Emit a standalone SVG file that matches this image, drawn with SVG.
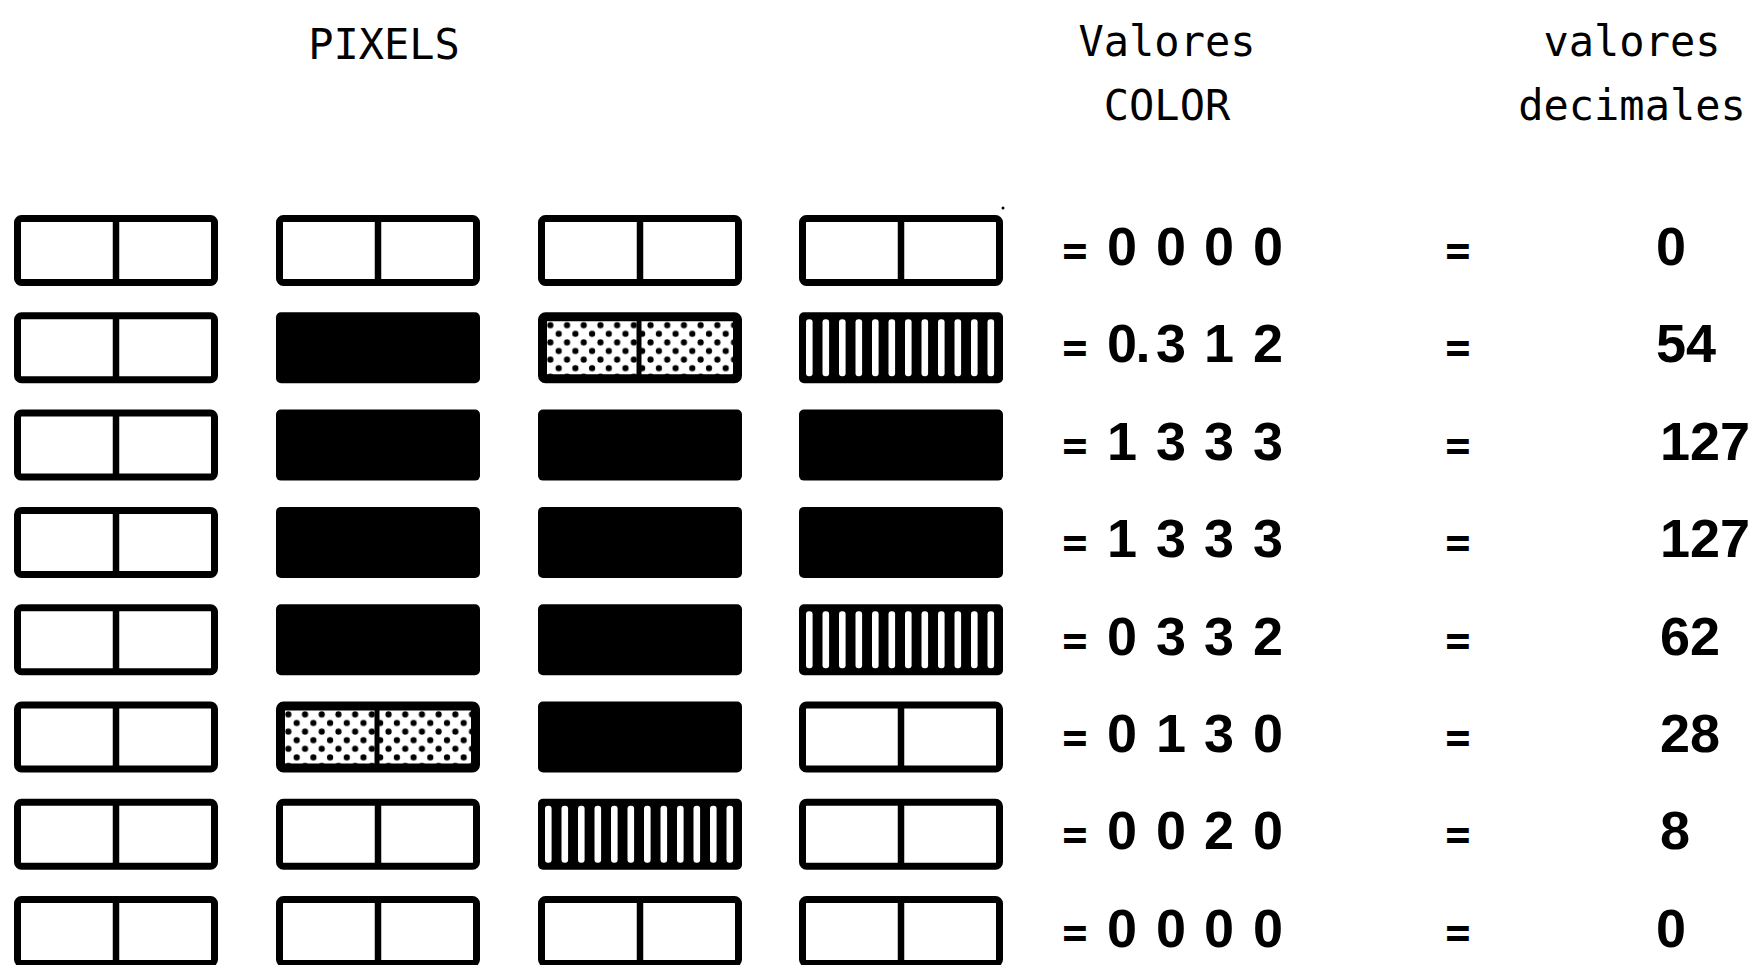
<svg xmlns="http://www.w3.org/2000/svg" xmlns:xlink="http://www.w3.org/1999/xlink" width="1758" height="965" viewBox="0 0 1758 965">
<style>
.hdr{font-family:"DejaVu Sans Mono","Liberation Mono",monospace;font-size:42px;fill:#000;text-anchor:middle}
.val{font-family:"Liberation Sans",Arial,sans-serif;font-weight:bold;font-size:54px;fill:#000;text-anchor:middle}
.eq{font-family:"DejaVu Sans Mono","Liberation Mono",monospace;font-weight:bold;font-size:42px;fill:#000;text-anchor:middle}
.dec{font-family:"Liberation Sans",Arial,sans-serif;font-weight:bold;font-size:54px;fill:#000}
</style>
<defs>
<pattern id="dots" patternUnits="userSpaceOnUse" width="16.7" height="17.2">
<rect width="16.7" height="17.2" fill="#fff"/>
<circle cx="4" cy="4.3" r="3.1" fill="#000"/>
<circle cx="12.35" cy="12.9" r="3.1" fill="#000"/>
</pattern>
<g id="empty">
<rect x="3.5" y="3.5" width="197" height="64" rx="4" fill="#fff" stroke="#000" stroke-width="7"/>
<line x1="102" y1="3" x2="102" y2="68" stroke="#000" stroke-width="6.5"/>
</g>
<g id="black">
<rect x="0" y="0" width="204" height="71" rx="5" fill="#000"/>
</g>
<g id="dotted">
<rect x="4.5" y="4.5" width="195" height="62" rx="3" fill="url(#dots)" stroke="#000" stroke-width="9"/>
<line x1="101" y1="4" x2="101" y2="67" stroke="#000" stroke-width="5"/>
</g>
<g id="striped">
<rect x="0" y="0" width="204" height="71" rx="5" fill="#000"/>
<g fill="#fff">
<rect x="7" y="7" width="6.6" height="57" rx="3"/>
<rect x="23.5" y="7" width="6.6" height="57" rx="3"/>
<rect x="40" y="7" width="6.6" height="57" rx="3"/>
<rect x="56.5" y="7" width="6.6" height="57" rx="3"/>
<rect x="73" y="7" width="6.6" height="57" rx="3"/>
<rect x="89.5" y="7" width="6.6" height="57" rx="3"/>
<rect x="106" y="7" width="6.6" height="57" rx="3"/>
<rect x="122.5" y="7" width="6.6" height="57" rx="3"/>
<rect x="139" y="7" width="6.6" height="57" rx="3"/>
<rect x="155.5" y="7" width="6.6" height="57" rx="3"/>
<rect x="172" y="7" width="6.6" height="57" rx="3"/>
<rect x="188.5" y="7" width="6.6" height="57" rx="3"/>
</g>
</g>
</defs>
<rect width="1758" height="965" fill="#fff"/>

<g id="headers">
<text class="hdr" x="384" y="59">PIXELS</text>
<text class="hdr" x="1167" y="56">Valores</text>
<text class="hdr" x="1167" y="120">COLOR</text>
<text class="hdr" x="1632" y="56">valores</text>
<text class="hdr" x="1632" y="120">decimales</text>
</g>

<g id="row1">
<use xlink:href="#empty" x="14" y="215"/>
<use xlink:href="#empty" x="276" y="215"/>
<use xlink:href="#empty" x="538" y="215"/>
<use xlink:href="#empty" x="799" y="215"/>
<text class="eq" x="1075" y="265">=</text>
<text class="val" x="1122 1171 1219 1268" y="265">0000</text>
<text class="eq" x="1458" y="265">=</text>
<text class="dec" x="1656" y="265">0</text>
</g>

<g id="row2">
<use xlink:href="#empty" x="14" y="312.3"/>
<use xlink:href="#black" x="276" y="312.3"/>
<use xlink:href="#dotted" x="538" y="312.3"/>
<use xlink:href="#striped" x="799" y="312.3"/>
<text class="eq" x="1075" y="362.4">=</text>
<text class="val" x="1122 1143 1171 1219 1268" y="362.4">0.312</text>
<text class="eq" x="1458" y="362.4">=</text>
<text class="dec" x="1656" y="362.4">54</text>
</g>

<g id="row3">
<use xlink:href="#empty" x="14" y="409.6"/>
<use xlink:href="#black" x="276" y="409.6"/>
<use xlink:href="#black" x="538" y="409.6"/>
<use xlink:href="#black" x="799" y="409.6"/>
<text class="eq" x="1075" y="459.8">=</text>
<text class="val" x="1122 1171 1219 1268" y="459.8">1333</text>
<text class="eq" x="1458" y="459.8">=</text>
<text class="dec" x="1660" y="459.8">127</text>
</g>

<g id="row4">
<use xlink:href="#empty" x="14" y="506.9"/>
<use xlink:href="#black" x="276" y="506.9"/>
<use xlink:href="#black" x="538" y="506.9"/>
<use xlink:href="#black" x="799" y="506.9"/>
<text class="eq" x="1075" y="557.2">=</text>
<text class="val" x="1122 1171 1219 1268" y="557.2">1333</text>
<text class="eq" x="1458" y="557.2">=</text>
<text class="dec" x="1660" y="557.2">127</text>
</g>

<g id="row5">
<use xlink:href="#empty" x="14" y="604.2"/>
<use xlink:href="#black" x="276" y="604.2"/>
<use xlink:href="#black" x="538" y="604.2"/>
<use xlink:href="#striped" x="799" y="604.2"/>
<text class="eq" x="1075" y="654.6">=</text>
<text class="val" x="1122 1171 1219 1268" y="654.6">0332</text>
<text class="eq" x="1458" y="654.6">=</text>
<text class="dec" x="1660" y="654.6">62</text>
</g>

<g id="row6">
<use xlink:href="#empty" x="14" y="701.5"/>
<use xlink:href="#dotted" x="276" y="701.5"/>
<use xlink:href="#black" x="538" y="701.5"/>
<use xlink:href="#empty" x="799" y="701.5"/>
<text class="eq" x="1075" y="752">=</text>
<text class="val" x="1122 1171 1219 1268" y="752">0130</text>
<text class="eq" x="1458" y="752">=</text>
<text class="dec" x="1660" y="752">28</text>
</g>

<g id="row7">
<use xlink:href="#empty" x="14" y="798.8"/>
<use xlink:href="#empty" x="276" y="798.8"/>
<use xlink:href="#striped" x="538" y="798.8"/>
<use xlink:href="#empty" x="799" y="798.8"/>
<text class="eq" x="1075" y="849.4">=</text>
<text class="val" x="1122 1171 1219 1268" y="849.4">0020</text>
<text class="eq" x="1458" y="849.4">=</text>
<text class="dec" x="1660" y="849.4">8</text>
</g>

<g id="row8">
<use xlink:href="#empty" x="14" y="896.1"/>
<use xlink:href="#empty" x="276" y="896.1"/>
<use xlink:href="#empty" x="538" y="896.1"/>
<use xlink:href="#empty" x="799" y="896.1"/>
<text class="eq" x="1075" y="946.8">=</text>
<text class="val" x="1122 1171 1219 1268" y="946.8">0000</text>
<text class="eq" x="1458" y="946.8">=</text>
<text class="dec" x="1656" y="946.8">0</text>
</g>

<g id="connectors"></g>
<circle cx="1003" cy="208" r="1.5" fill="#000"/>
</svg>
